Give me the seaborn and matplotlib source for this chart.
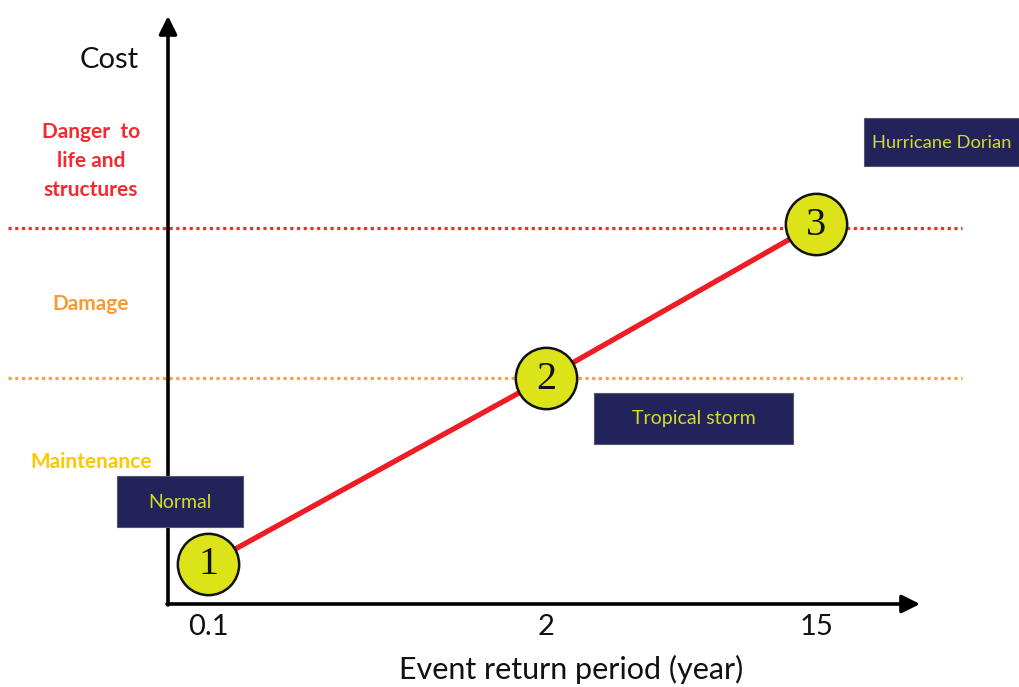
import matplotlib
matplotlib.use("Agg")
import matplotlib.pyplot as plt
from matplotlib.patches import Rectangle
import seaborn as sns
import pandas as pd

# Events and their relative cost level
events = ["1", "2", "3"]
return_period_labels = ["0.1", "2", "15"]
event_position = [0.0, 1.0, 1.8]
cost_level = [0.40, 2.26, 3.80]

# Cost bands and their thresholds
band_labels = ["Danger  to\nlife and\nstructures", "Damage", "Maintenance"]
band_colors = ["#f42a2f", "#f79a32", "#fcc800"]
thresholds = [3.76, 2.26]
threshold_colors = ["#f42a2f", "#f7a23c"]

# Event category boxes
category_labels = ["Normal", "Tropical storm", "Hurricane Dorian"]

df = pd.DataFrame({"event": events, "x": event_position, "cost": cost_level})

sns.set_theme(style="white")
plt.rcParams["font.family"] = ["Lato", "DejaVu Sans"]

W, H = 1019, 687
fig = plt.figure(figsize=(W / 100, H / 100), dpi=100)
ax = fig.add_axes([0, 0, 1, 1])
PX_X, PX_Y = 338.0, 100.0
X0, Y0 = 208.0, 604.0
ax.set_xlim(-X0 / PX_X, (W - X0) / PX_X)
ax.set_ylim(-(H - Y0) / PX_Y, Y0 / PX_Y)
ax.axis("off")

def fx(px):
    return (px - X0) / PX_X

def fy(py):
    return (Y0 - py) / PX_Y

# Axes arrows
arrow = dict(arrowstyle="-|>,head_length=0.9,head_width=0.45", color="black", lw=2.6,
             shrinkA=0, shrinkB=0)
ax.annotate("", xy=(fx(168), fy(16)), xytext=(fx(168), fy(605)), arrowprops=arrow)
ax.annotate("", xy=(fx(920), fy(604)), xytext=(fx(167), fy(604)), arrowprops=arrow)

# Threshold lines
for t, c in zip(thresholds, threshold_colors):
    ax.plot([fx(8), fx(962)], [t, t], color=c, lw=2.3, ls=(0, (1, 1.1)), zorder=2)

# Trend line and event markers
sns.lineplot(data=df, x="x", y="cost", ax=ax, color="#ee1c24", lw=3.8, zorder=3,
             legend=False)
sns.scatterplot(data=df, x="x", y="cost", ax=ax, s=1950, color="#dce319",
                edgecolor="#111111", linewidth=1.8, zorder=4, legend=False)
for _, r in df.iterrows():
    ax.text(r["x"], r["cost"] - 0.01, r["event"], ha="center", va="center",
            fontsize=29, family=["Liberation Serif"], color="#111111", zorder=5)

# Return period tick labels
for xp, lab in zip(event_position, return_period_labels):
    ax.text(xp, fy(627), lab, ha="center", va="center", fontsize=21, color="#111111")

ax.text(fx(571), fy(669), "Event return period (year)", ha="center", va="center",
        fontsize=22, color="#111111")
ax.text(fx(109), fy(60), "Cost", ha="center", va="center", fontsize=21, color="#111111")

# Band labels
band_y = [161, 304, 462]
for lab, c, yp in zip(band_labels, band_colors, band_y):
    ax.text(fx(91), fy(yp), lab, ha="center", va="center", fontsize=15,
            fontweight="bold", color=c, linespacing=1.55)

# Category boxes
boxes = [(117, 476, 126, 51), (594, 393, 199, 51), (864, 118, 170, 48)]
text_pos = [(180, 503, "center"), (694, 418, "center"), (872, 143, "left")]
text_size = [14, 14, 13.2]
for (bx, by, bw, bh), (tx, ty, ha), lab, fs in zip(boxes, text_pos, category_labels,
                                                   text_size):
    ax.add_patch(Rectangle((fx(bx), fy(by + bh)), bw / PX_X, bh / PX_Y,
                           facecolor="#22235a", edgecolor="#55556a", lw=0.8, zorder=3))
    ax.text(fx(tx), fy(ty), lab, ha=ha, va="center", fontsize=fs,
            color="#d4dc2a", zorder=4, clip_on=False)

fig.savefig("out.png", dpi=100)
